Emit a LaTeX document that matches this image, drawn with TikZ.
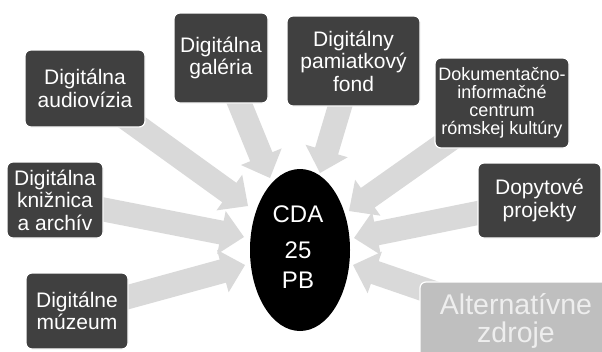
\documentclass[tikz,border=0pt]{standalone}
\usepackage{fontspec}
\setmainfont{Liberation Sans}
\usetikzlibrary{calc,shapes.geometric,backgrounds}
\definecolor{boxgray}{HTML}{404040}
\definecolor{arrowgray}{HTML}{D9D9D9}
\definecolor{altgray}{HTML}{BFBFBF}
\definecolor{alttext}{HTML}{EEEEEE}
\newcommand\blockarrow[2]{%
  \coordinate (hb) at ($(#2)!23pt!(#1)$);
  \fill[arrowgray]
    ($(#1)!12pt!90:(#2)$) --
    ($(hb)!12pt!90:(#2)$) --
    ($(hb)!22pt!90:(#2)$) --
    (#2) --
    ($(hb)!22pt!-90:(#2)$) --
    ($(hb)!12pt!-90:(#2)$) --
    ($(#1)!12pt!-90:(#2)$) -- cycle;}
\begin{document}
\begin{tikzpicture}[x=1pt,y=-1pt,
  box/.style={rounded corners=6pt, fill=boxgray, draw=white, line width=1.2pt,
    text=white, align=center, inner sep=0pt, font=\fontsize{21}{22.5}\selectfont},
  ctext/.style={text=white, anchor=base, inner sep=0pt, font=\fontsize{24}{24}\selectfont}]
\useasboundingbox (0,0) rectangle (602,351);
\clip (0,0) rectangle (602,351);

\node[box, minimum width=120pt, minimum height=77pt] (aud) at (85,88.5) {Digitálna\\audiovízia};
\node[box, minimum width=94pt, minimum height=90pt] (gal) at (221,58) {Digitálna\\galéria};
\node[box, minimum width=133pt, minimum height=90pt] (pam) at (353.5,61) {Digitálny\\pamiatkový\\fond};
\node[box, minimum width=134pt, minimum height=90pt, font=\fontsize{18}{17.8}\selectfont] (dok) at (502,103) {Dokumentačno-\\informačné\\centrum\\rómskej kultúry};
\node[box, minimum width=123pt, minimum height=75pt] (dop) at (539.5,200.5) {Dopytové\\projekty};
\node[box, fill=altgray, text=alttext, minimum width=192pt, minimum height=78pt, font=\fontsize{28.5}{27.5}\selectfont] (alt) at (516,321) {Alternatívne\\zdroje};
\node[box, minimum width=96pt, minimum height=76pt] (kni) at (55,200) {Digitálna\\knižnica\\a archív};
\node[box, minimum width=102pt, minimum height=76pt] (muz) at (77,311) {Digitálne\\múzeum};

\node[ellipse, fill=black, minimum width=100pt, minimum height=162pt, inner sep=0pt] (cda) at (300,250) {};
\node[ctext] (t1) at (298,222) {CDA};
\node[ctext] (t2) at (298,258) {25};
\node[ctext] (t3) at (298,288) {PB};

\coordinate (paud) at (248,206);
\coordinate (pgal) at (270,178);
\coordinate (ppam) at (320,173);
\coordinate (pdok) at (349,211);
\coordinate (pdop) at (354,238);
\coordinate (palt) at (353,265);
\coordinate (pkni) at (244,237);
\coordinate (pmuz) at (245,265);

\begin{scope}[on background layer]
\blockarrow{aud.center}{paud}
\blockarrow{gal.center}{pgal}
\blockarrow{pam.center}{ppam}
\blockarrow{dok.center}{pdok}
\blockarrow{dop.center}{pdop}
\blockarrow{alt.center}{palt}
\blockarrow{kni.center}{pkni}
\blockarrow{muz.center}{pmuz}
\end{scope}
\end{tikzpicture}
\end{document}
